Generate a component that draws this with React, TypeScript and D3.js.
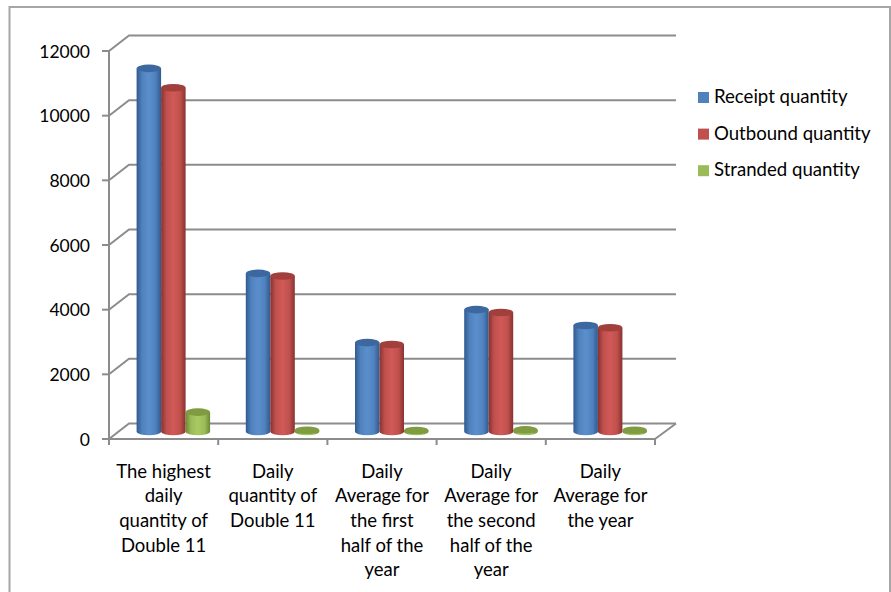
import React from "react";
import * as d3 from "d3";

const categories = [
  ["The highest", "daily", "quantity of", "Double 11"],
  ["Daily", "quantity of", "Double 11"],
  ["Daily", "Average for", "the first", "half of the", "year"],
  ["Daily", "Average for", "the second", "half of the", "year"],
  ["Daily", "Average for", "the year"],
];
const seriesNames = ["Receipt quantity", "Outbound quantity", "Stranded quantity"];
const receipt = [11230, 4890, 2750, 3770, 3280];
const outbound = [10630, 4810, 2690, 3680, 3210];
const stranded = [600, 40, 30, 50, 40];
const yTicks = [0, 2000, 4000, 6000, 8000, 10000, 12000];

const seriesValues = [receipt, outbound, stranded];
const palette = [
  { side: "#4f81bd", dark: "#2f5a8f", light: "#5b8fcb", top: "#3c689f" },
  { side: "#c0504d", dark: "#873230", light: "#d05a57", top: "#a03f3c" },
  { side: "#9bbb59", dark: "#6c8834", light: "#a9c964", top: "#7f9c40" },
];

const FONT = "Lato, 'Open Sans', sans-serif";
const AXIS = "#8c8c8c";
const DEPTH_X = 20;
const DEPTH_Y = 15.5;

const yFront = d3.scaleLinear().domain([0, 12000]).range([439, 51]);
const xFront = d3.scaleBand<number>().domain(d3.range(5)).range([109, 655]);
const yMid = (v: number) => yFront(v) - 7.5;
const groupX = (i: number) => xFront(i)! + 10 + (xFront.bandwidth() - 73) / 2;
const barX = d3.scaleBand<number>().domain([0, 1, 2]).range([-0.5, 73]);
const RY = 3.8;

function Cylinder({ x, w, v, s }: { x: number; w: number; v: number; s: number }) {
  const top = yMid(v);
  const base = yMid(0);
  const rx = w / 2;
  const d = `M${x},${top}L${x},${base}A${rx},${RY} 0 0 0 ${x + w},${base}L${x + w},${top}Z`;
  return (
    <g>
      <path d={d} fill={`url(#cyl${s})`} />
      <ellipse cx={x + rx} cy={top} rx={rx} ry={RY} fill={palette[s].top} />
    </g>
  );
}

export default function App() {
  return (
    <svg
      width={891}
      height={592}
      style={{ position: "absolute", left: 0, top: 0, background: "#fff" }}
      fontFamily={FONT}
    >
      <defs>
        {palette.map((p, i) => (
          <linearGradient id={`cyl${i}`} key={i} x1="0" x2="1" y1="0" y2="0">
            <stop offset="0" stopColor={p.dark} />
            <stop offset="0.22" stopColor={p.side} />
            <stop offset="0.5" stopColor={p.light} />
            <stop offset="0.78" stopColor={p.side} />
            <stop offset="1" stopColor={p.dark} />
          </linearGradient>
        ))}
      </defs>

      {/* chart frame, open at the bottom */}
      <path d="M9.5,592V7H890V592" fill="none" stroke="#a6a6a6" strokeWidth={2} />

      {/* walls and gridlines */}
      {yTicks.map((t) => {
        const y = yFront(t);
        return (
          <g key={t}>
            <path
              d={`M${109},${y}L${109 + DEPTH_X},${y - DEPTH_Y}H${655 + DEPTH_X + 1}`}
              fill="none"
              stroke={AXIS}
              strokeWidth={2}
            />
            <line x1={102} x2={109} y1={y} y2={y} stroke={AXIS} strokeWidth={2} />
            <text x={90} y={y} fontSize={17.5} fill="#000" textAnchor="end" dominantBaseline="central">
              {t}
            </text>
          </g>
        );
      })}
      <line x1={109} x2={109} y1={yFront(12000)} y2={yFront(0) + 6} stroke={AXIS} strokeWidth={2} />
      <line x1={109} x2={655} y1={yFront(0)} y2={yFront(0)} stroke={AXIS} strokeWidth={2} />
      <line
        x1={655}
        x2={655 + DEPTH_X + 1}
        y1={yFront(0)}
        y2={yFront(0) - DEPTH_Y}
        stroke={AXIS}
        strokeWidth={2}
      />
      {d3.range(1, 6).map((i) => {
        const x = 109 + i * xFront.step();
        return <line key={i} x1={x} x2={x} y1={yFront(0)} y2={yFront(0) + 6} stroke={AXIS} strokeWidth={2} />;
      })}

      {/* cylinders */}
      {categories.map((_, i) =>
        seriesValues.map((vals, s) => (
          <Cylinder key={`${i}-${s}`} x={groupX(i) + barX(s)!} w={barX.bandwidth()} v={vals[i]} s={s} />
        ))
      )}

      {/* category labels */}
      {categories.map((lines, i) => (
        <text key={i} textAnchor="middle" fontSize={18.5} fill="#000">
          {lines.map((l, j) => (
            <tspan key={j} x={xFront(i)! + xFront.bandwidth() / 2} y={477.5 + j * 24.7}>
              {l}
            </tspan>
          ))}
        </text>
      ))}

      {/* legend */}
      {seriesNames.map((n, i) => {
        const y = 97 + i * 36.6;
        return (
          <g key={n}>
            <rect x={698} y={y - 5} width={11} height={11} fill={palette[i].side} />
            <text x={714} y={y + 6} fontSize={18.6} fill="#000">
              {n}
            </text>
          </g>
        );
      })}
    </svg>
  );
}
